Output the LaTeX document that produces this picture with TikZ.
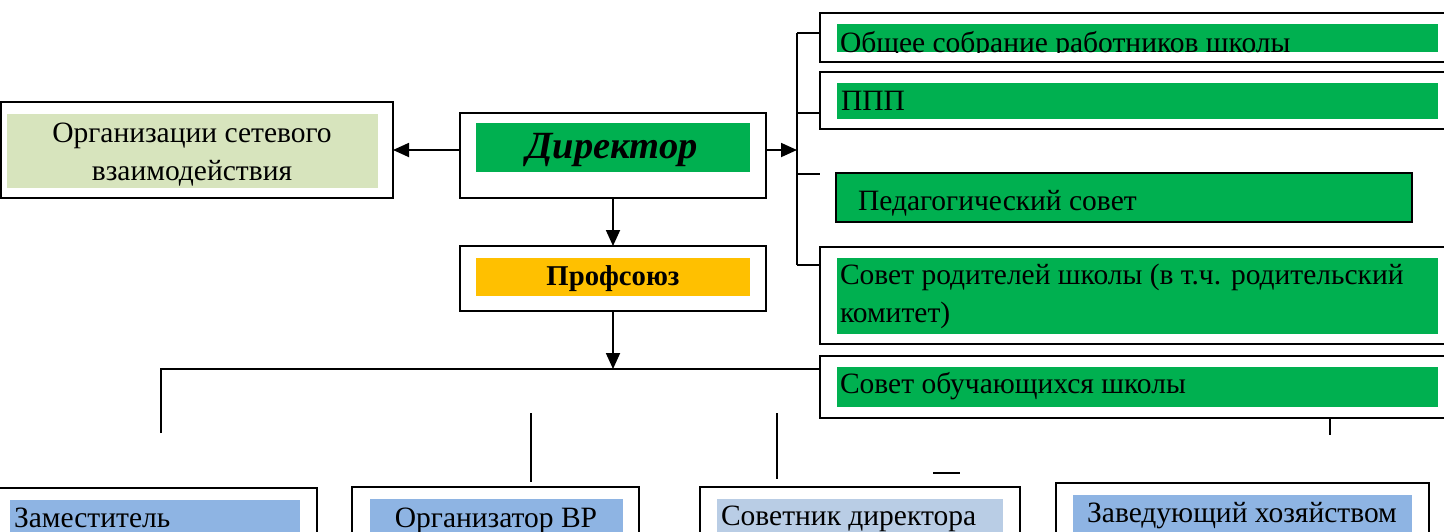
\documentclass[tikz,border=0pt]{standalone}
\usepackage{fontspec}
\setmainfont{Liberation Serif}
\usetikzlibrary{arrows.meta}
\definecolor{grn}{HTML}{00B050}
\definecolor{olv}{HTML}{D7E4BD}
\definecolor{orng}{HTML}{FFC000}
\definecolor{blu}{HTML}{8EB4E3}
\definecolor{lblu}{HTML}{B9CDE5}
\newcommand\bx[6]{\node[#6, anchor=north west, minimum width={(#4)-(#2)}, minimum height={(#5)-(#3)}] (#1) at (#2,#3) {};}
\begin{document}
\begin{tikzpicture}[x=1pt,y=-1pt,
  frame/.style={draw, line width=2pt, fill=white, inner sep=0pt, outer sep=0pt},
  fillbox/.style={fill=#1, inner sep=0pt, outer sep=0pt},
  txt/.style={inner sep=0pt, outer sep=0pt, font=\fontsize{29.5}{38}\selectfont},
  conn/.style={line width=1.8pt},
  arr/.style={line width=1.8pt, -{Triangle[length=16pt,width=14pt]}}]
\path[use as bounding box] (0,0) rectangle (1444,531);
\clip (0,0) rectangle (1444,531);
% frames and fills
\bx{orgF}{1}{102}{393}{198}{frame}
\bx{orgI}{7}{114}{378}{188}{fillbox=olv}
\bx{dirF}{460}{113}{766}{198}{frame}
\bx{dirI}{476}{123}{750}{172}{fillbox=grn}
\bx{profF}{460}{246}{766}{311}{frame}
\bx{profI}{476}{258}{750}{296}{fillbox=orng}
\bx{sobrF}{820}{13}{1452}{62}{frame}
\bx{sobrI}{837}{24}{1438}{52}{fillbox=grn}
\bx{pppF}{820}{72}{1452}{129}{frame}
\bx{pppI}{837}{83}{1438}{119}{fillbox=grn}
\bx{pedF}{836}{173}{1412}{222}{frame, fill=grn}
\bx{rodF}{820}{247}{1452}{344}{frame}
\bx{rodI}{837}{258}{1438}{334}{fillbox=grn}
\bx{obF}{820}{356}{1452}{418}{frame}
\bx{obI}{837}{367}{1438}{407}{fillbox=grn}
\bx{zamF}{-2}{488}{317}{545}{frame}
\bx{zamI}{10}{500}{300}{545}{fillbox=blu}
\bx{vrF}{352}{487}{639}{545}{frame}
\bx{vrI}{370}{499}{623}{545}{fillbox=blu}
\bx{sovF}{700}{487}{1020}{545}{frame}
\bx{sovI}{717}{499}{1003}{545}{fillbox=lblu}
\bx{zavF}{1056}{483}{1429}{545}{frame}
\bx{zavI}{1073}{495}{1412}{545}{fillbox=blu}
% texts
\node[txt, anchor=base] (orgT1) at (192,142) {Организации сетевого};
\node[txt, anchor=base] (orgT2) at (192,180) {взаимодействия};
\node[txt, anchor=base, font=\fontsize{38.5}{44}\selectfont\bfseries\itshape] (dirT) at (612,158) {Директор};
\node[txt, anchor=base, font=\fontsize{28.7}{32}\selectfont\bfseries] (profT) at (613,285) {Профсоюз};
\begin{scope}
\clip (837,24) rectangle (1438,52);
\node[txt, anchor=base west] (sobrT) at (840,52.5) {Общее собрание работников школы};
\end{scope}
\node[txt, anchor=base west] (pppT) at (841,110) {ППП};
\node[txt, anchor=base west] (pedT) at (858,210) {Педагогический совет};
\node[txt, anchor=base west] (rodT1) at (840,284) {Совет родителей школы (в т.ч. родительский};
\node[txt, anchor=base west] (rodT2) at (840,322) {комитет)};
\node[txt, anchor=base west] (obT) at (840,393) {Совет обучающихся школы};
\node[txt, anchor=base west] (zamT) at (14,527) {Заместитель};
\node[txt, anchor=base] (vrT) at (496,527) {Организатор ВР};
\node[txt, anchor=base west] (sovT) at (721,525) {Советник директора};
\node[txt, anchor=base] (zavT) at (1242,522) {Заведующий хозяйством};
% connector points
\coordinate (busR) at (797,150);
\coordinate (b1) at (797,33);
\coordinate (b2) at (797,113);
\coordinate (b3) at (797,174);
\coordinate (b3e) at (820,174);
\coordinate (b4) at (797,265);
\coordinate (hbus) at (613,369);
\coordinate (hL) at (161,369);
\coordinate (hLd) at (161,433);
\coordinate (v2a) at (531,413);
\coordinate (v2b) at (531,482);
\coordinate (v3a) at (777,413);
\coordinate (v3b) at (777,479);
\coordinate (dsa) at (933,473);
\coordinate (dsb) at (960,473);
\coordinate (v4b) at (1330,435);
% connectors
\draw[arr] (dirF.west |- orgF.east) -- (orgF.east);
\draw[arr] (dirF.south) -- (profF.north);
\draw[arr] (dirF.east |- busR) -- (busR);
\draw[conn] (b1) -- (b4);
\draw[conn] (b1) -- (b1 -| sobrF.west);
\draw[conn] (b2) -- (b2 -| pppF.west);
\draw[conn] (b3) -- (b3e);
\draw[conn] (b4) -- (b4 -| rodF.west);
\draw[arr] (profF.south) -- (hbus);
\draw[conn] (hLd) -- (hL) -- (hL -| obF.west);
\draw[conn] (v2a) -- (v2b);
\draw[conn] (v3a) -- (v3b);
\draw[conn] (dsa) -- (dsb);
\draw[conn] (obF.south -| v4b) -- (v4b);
\end{tikzpicture}
\end{document}
